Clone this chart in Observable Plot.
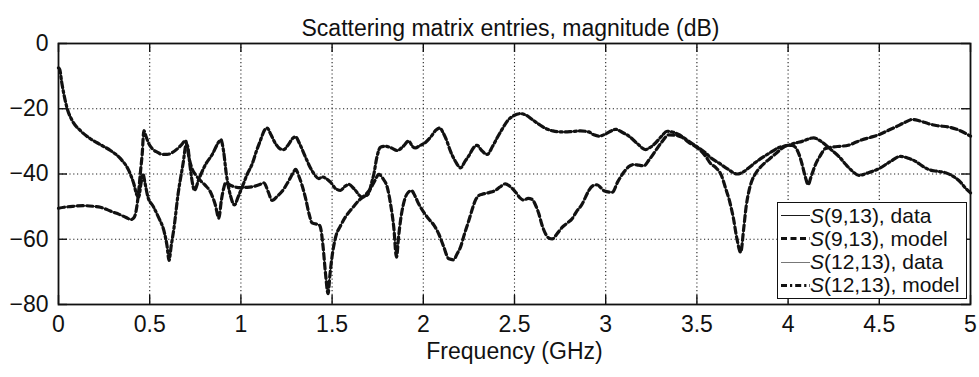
<!DOCTYPE html>
<html>
<head>
<meta charset="utf-8">
<script src="https://cdn.jsdelivr.net/npm/d3@7"></script>
<script src="https://cdn.jsdelivr.net/npm/@observablehq/plot@0.6"></script>
<style>
  body { margin: 0; background: #fff; }
  #chart { position: relative; width: 979px; height: 377px; font-family: "Liberation Sans", Arial, sans-serif; color: #111; }
  #legend { position: absolute; left: 777px; top: 202px; width: 190px; height: 97px; box-sizing: border-box;
            border: 1.6px solid #111; background: #fff; }
  .row { position: absolute; left: 0; height: 23px; display: flex; align-items: center; font-size: 21px; white-space: nowrap; }
  .row svg { width: 32px; height: 23px; flex: none; }
</style>
</head>
<body>
<div id="chart"></div>
<script>
// Axis ticks
const xTicks = [0, 0.5, 1, 1.5, 2, 2.5, 3, 3.5, 4, 4.5, 5];
const yTicks = [-80, -60, -40, -20, 0];

const titleText = "Scattering matrix entries, magnitude (dB)";
const xLabelText = "Frequency (GHz)";

// Measured |S(9,13)| in dB: [frequency GHz, magnitude dB]
const s913Data = [
  [0,-50.5],[0.03,-50.2],[0.08,-49.9],[0.139,-49.7],[0.19,-49.9],[0.23,-50.2],[0.27,-51],[0.30,-51.7],
  [0.33,-52.3],[0.358,-53],[0.38,-53.6],[0.395,-54],[0.41,-53.6],[0.422,-52.2],[0.432,-49],[0.44,-45],
  [0.45,-39],[0.459,-33.8],[0.468,-26.7],[0.48,-28.5],[0.495,-30.7],[0.515,-32.3],[0.541,-33.3],[0.57,-34],
  [0.596,-34],[0.625,-33.4],[0.651,-32.3],[0.675,-31],[0.696,-29.7],[0.705,-31.5],[0.714,-34.5],[0.73,-38],
  [0.755,-40.5],[0.778,-42],[0.805,-43.5],[0.833,-45.5],[0.86,-49.5],[0.879,-53.5],[0.893,-48],[0.906,-44.3],
  [0.916,-42.7],[0.935,-43.2],[0.953,-43.7],[0.998,-44.2],[1.03,-44.1],[1.062,-43.9],[1.1,-43.3],[1.126,-42.7],
  [1.15,-45.5],[1.171,-48.1],[1.2,-46.8],[1.226,-45.3],[1.26,-42.3],[1.285,-39.8],[1.30,-38.6],[1.32,-41],
  [1.354,-47.3],[1.375,-52.5],[1.39,-55],[1.41,-55.3],[1.427,-55.5],[1.436,-56.3],[1.45,-62],[1.464,-70.6],
  [1.478,-76.7],[1.488,-71],[1.497,-66.5],[1.519,-59.4],[1.545,-56],[1.573,-53.2],[1.61,-50.5],[1.647,-48.1],
  [1.68,-46.5],[1.71,-44.5],[1.735,-42],[1.756,-40.1],[1.78,-41.5],[1.802,-44],[1.82,-49],[1.838,-56.3],
  [1.853,-65.5],[1.865,-59],[1.875,-54.3],[1.89,-49.5],[1.902,-47.1],[1.918,-45.6],[1.935,-45.1],[1.955,-46.8],
  [1.975,-49.2],[2.0,-51.5],[2.03,-53.8],[2.06,-55.8],[2.085,-58.4],[2.11,-62],[2.14,-66],[2.167,-66.3],
  [2.185,-64.5],[2.204,-62.4],[2.225,-58.5],[2.25,-54.2],[2.27,-50.5],[2.286,-48],[2.305,-46.6],[2.323,-46.2],
  [2.36,-45.7],[2.396,-45],[2.42,-44],[2.45,-43],[2.475,-43.8],[2.505,-45.5],[2.53,-47.3],[2.551,-48],
  [2.575,-47.5],[2.597,-47.8],[2.615,-49.5],[2.633,-52.1],[2.65,-55.5],[2.67,-58.3],[2.69,-59.7],[2.707,-59.9],
  [2.735,-58.2],[2.762,-56.3],[2.79,-55],[2.816,-53.7],[2.84,-51.5],[2.871,-49.2],[2.89,-47],[2.907,-45.1],
  [2.93,-43.6],[2.953,-43.3],[2.975,-44.3],[2.99,-45.1],[3.036,-45.6],[3.065,-42.5],[3.10,-39.4],[3.125,-37.8],
  [3.154,-37.1],[3.18,-37.3],[3.209,-37.5],[3.24,-35.5],[3.273,-32.9],[3.31,-30],[3.346,-28],[3.38,-28.1],
  [3.42,-28.8],[3.456,-30.3],[3.51,-32.3],[3.547,-34.5],[3.575,-36.8],[3.605,-38.1],[3.635,-40.5],[3.657,-44.3],
  [3.68,-48.5],[3.70,-53.5],[3.72,-60],[3.74,-64],[3.757,-56.5],[3.77,-50],[3.785,-45.3],[3.80,-42.3],
  [3.82,-40],[3.85,-37.8],[3.876,-36.4],[3.91,-34.8],[3.94,-33.4],[3.97,-32],[4.0,-31.2],[4.02,-31.2],
  [4.04,-31.8],[4.06,-34],[4.077,-37.1],[4.095,-41],[4.11,-43.3],[4.125,-41],[4.15,-37.1],[4.175,-34.5],
  [4.205,-32.2],[4.25,-31.7],[4.287,-31.5],[4.33,-31.2],[4.37,-30.3],[4.406,-29.5],[4.45,-28.8],[4.5,-27.9],
  [4.55,-26.6],[4.589,-25.6],[4.64,-24.2],[4.68,-23.3],[4.72,-23.7],[4.77,-24.6],[4.82,-25.2],[4.88,-25.6],
  [4.92,-26.2],[4.95,-26.9],[4.975,-27.6],[5.0,-28.4]
];

// Measured |S(12,13)| in dB: [frequency GHz, magnitude dB]
const s1213Data = [
  [0,-7.5],[0.007,-8],[0.018,-12],[0.029,-15.4],[0.047,-19.8],[0.075,-23.6],[0.12,-26.7],[0.175,-29.2],
  [0.23,-31],[0.285,-32.8],[0.34,-35.3],[0.385,-38.9],[0.413,-43],[0.43,-46.5],[0.44,-47],[0.452,-43],
  [0.463,-40],[0.475,-43],[0.49,-47],[0.52,-50],[0.546,-53],[0.582,-58.3],[0.595,-62],[0.606,-66.5],
  [0.618,-62],[0.632,-57],[0.656,-46],[0.683,-36.8],[0.70,-31],[0.708,-31.5],[0.72,-37],[0.735,-43],
  [0.745,-45],[0.77,-41.5],[0.806,-37.1],[0.843,-34],[0.875,-30.5],[0.89,-29.5],[0.905,-33],[0.92,-40],
  [0.94,-46],[0.965,-49.5],[0.985,-47],[1.007,-44],[1.035,-40],[1.062,-36.9],[1.085,-33],[1.107,-29.7],
  [1.13,-26.5],[1.144,-25.9],[1.165,-28],[1.19,-30.7],[1.215,-32.3],[1.235,-32.5],[1.26,-31],[1.285,-29],
  [1.30,-28.6],[1.32,-30.5],[1.354,-34.8],[1.38,-38],[1.40,-39.9],[1.427,-41.4],[1.446,-40.9],[1.47,-41.5],
  [1.491,-42.5],[1.52,-44.5],[1.546,-45],[1.57,-43.8],[1.592,-43.2],[1.62,-44.5],[1.665,-47.1],[1.70,-46],
  [1.715,-43],[1.729,-40],[1.745,-35],[1.765,-31.8],[1.793,-31.5],[1.825,-32],[1.857,-32.8],[1.89,-31.5],
  [1.92,-29.9],[1.94,-31.5],[1.957,-32],[1.98,-31.3],[2.003,-30.7],[2.04,-28.7],[2.07,-26.5],[2.09,-25.9],
  [2.11,-27.5],[2.13,-30],[2.149,-33],[2.175,-36],[2.204,-38.1],[2.23,-36],[2.25,-34.4],[2.275,-32],
  [2.295,-31.2],[2.32,-32.8],[2.35,-34],[2.38,-31.5],[2.405,-28.9],[2.435,-26],[2.46,-23.8],[2.5,-22],
  [2.533,-21.5],[2.565,-22],[2.597,-23.3],[2.635,-24.8],[2.67,-26],[2.71,-26.8],[2.762,-27.1],[2.81,-27],
  [2.862,-26.8],[2.907,-27.1],[2.935,-28],[2.962,-28.4],[3.0,-27.7],[3.03,-26.8],[3.054,-26.3],[3.09,-27.2],
  [3.127,-28.4],[3.17,-30.5],[3.218,-32.5],[3.245,-31.8],[3.273,-30.5],[3.305,-28.5],[3.337,-26.9],[3.37,-27.2],
  [3.40,-27.9],[3.456,-30],[3.51,-32],[3.547,-33.5],[3.575,-35],[3.62,-36.6],[3.67,-38.5],[3.72,-40],
  [3.75,-39.5],[3.785,-38.1],[3.82,-36.5],[3.858,-35],[3.9,-33.5],[3.949,-31.9],[4.0,-31.2],[4.04,-30.5],
  [4.077,-30],[4.11,-29.3],[4.14,-28.9],[4.175,-29.8],[4.214,-31.5],[4.245,-33],[4.278,-34.6],[4.315,-37],
  [4.35,-39],[4.388,-40.4],[4.44,-39.6],[4.5,-38.3],[4.56,-36.2],[4.616,-34.6],[4.66,-35.2],[4.698,-36.1],
  [4.735,-37.5],[4.77,-38.6],[4.82,-39.2],[4.863,-39.6],[4.918,-41.2],[4.945,-42.5],[4.972,-44.3],[5.0,-45.8]
];

// The fitted model traces the measurements to within line width, so it uses the same readings.
const s913Model = s913Data;
const s1213Model = s1213Data;

const legendLabels = [
  {name: "S", rest: "(9,13), data"},
  {name: "S", rest: "(9,13), model"},
  {name: "S", rest: "(12,13), data"},
  {name: "S", rest: "(12,13), model"}
];

// Series styles
const styles = [
  {stroke: "#1a1a1a", width: 1, dash: null},
  {stroke: "#111", width: 3.2, dash: "6,3.5"},
  {stroke: "#777", width: 1, dash: null},
  {stroke: "#111", width: 3.2, dash: "6,3,2.2,3"}
];

const frameW = 979 - 58 - 9;
const frameH = 377 - 43 - 73;
const tickLen = 9;
const minus = d => d < 0 ? "\u2212" + Math.abs(d) : String(d);
const X = d => d[0], Y = d => d[1];

const plot = Plot.plot({
  width: 979,
  height: 377,
  marginLeft: 58,
  marginRight: 9,
  marginTop: 43,
  marginBottom: 73,
  style: {fontFamily: "'Liberation Sans', Arial, sans-serif", fontSize: "23px", color: "#111", background: "white", overflow: "visible"},
  x: {domain: [0, 5], ticks: xTicks, tickFormat: d => String(d), tickSize: 0, tickPadding: 11, label: null},
  y: {domain: [-80, 0], ticks: yTicks, tickFormat: minus, tickSize: 0, tickPadding: 10, label: null},
  marks: [
    // dotted grid
    Plot.ruleX(xTicks.slice(1, -1), {x: d => d, stroke: "#222", strokeWidth: 1.1, strokeDasharray: "1.2,2.6"}),
    Plot.ruleY(yTicks.slice(1, -1), {y: d => d, stroke: "#222", strokeWidth: 1.1, strokeDasharray: "1.2,2.6"}),
    // measured curves
    Plot.line(s913Data, {x: X, y: Y, stroke: styles[0].stroke, strokeWidth: styles[0].width, curve: "monotone-x"}),
    Plot.line(s1213Data, {x: X, y: Y, stroke: styles[2].stroke, strokeWidth: styles[2].width, curve: "monotone-x"}),
    // model curves
    Plot.line(s913Model, {x: X, y: Y, stroke: styles[1].stroke, strokeWidth: styles[1].width, strokeDasharray: styles[1].dash, curve: "monotone-x"}),
    Plot.line(s1213Model, {x: X, y: Y, stroke: styles[3].stroke, strokeWidth: styles[3].width, strokeDasharray: styles[3].dash, curve: "monotone-x"}),
    // inward ticks on all four sides
    Plot.tickX(xTicks, {x: d => d, insetTop: frameH - tickLen, stroke: "#111", strokeWidth: 1.4}),
    Plot.tickX(xTicks, {x: d => d, insetBottom: frameH - tickLen, stroke: "#111", strokeWidth: 1.4}),
    Plot.tickY(yTicks, {y: d => d, insetRight: frameW - tickLen, stroke: "#111", strokeWidth: 1.4}),
    Plot.tickY(yTicks, {y: d => d, insetLeft: frameW - tickLen, stroke: "#111", strokeWidth: 1.4}),
    Plot.frame({stroke: "#111", strokeWidth: 1.8}),
    Plot.text([titleText], {frameAnchor: "top", dy: -24, dx: -4, fontSize: 23, fill: "#111"}),
    Plot.text([xLabelText], {frameAnchor: "bottom", dy: 54, fontSize: 23, fill: "#111"})
  ]
});

const chart = document.getElementById("chart");
chart.appendChild(plot);

// Legend box inside the lower-right corner of the frame
const legend = document.createElement("div");
legend.id = "legend";
legendLabels.forEach((lab, i) => {
  const s = styles[i];
  const row = document.createElement("div");
  row.className = "row";
  row.style.top = (1 + i * 23.3) + "px";
  row.innerHTML =
    `<svg viewBox="0 0 32 23"><line x1="3" x2="32" y1="11.5" y2="11.5" stroke="${s.stroke}" stroke-width="${s.width}"` +
    (s.dash ? ` stroke-dasharray="${s.dash}"` : "") + `/></svg>` +
    `<span><i>${lab.name}</i>${lab.rest}</span>`;
  legend.appendChild(row);
});
chart.appendChild(legend);
</script>
</body>
</html>
